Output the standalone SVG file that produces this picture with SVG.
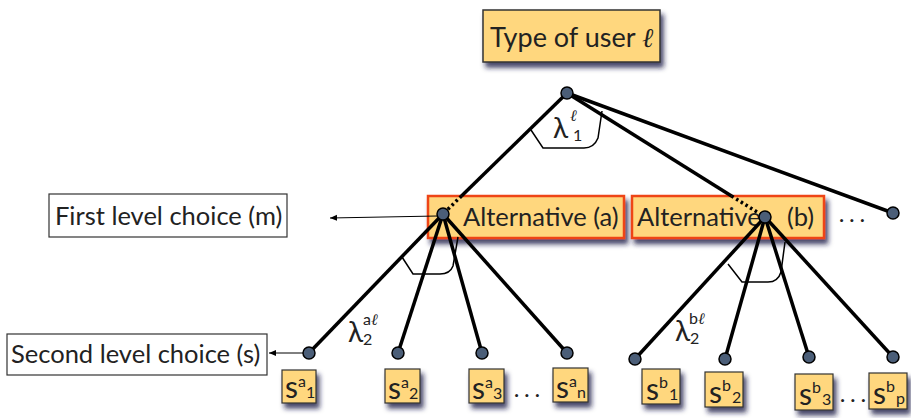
<svg xmlns="http://www.w3.org/2000/svg" width="911" height="418" viewBox="0 0 911 418">
  <defs>
    <filter id="shadow" x="-20%" y="-20%" width="150%" height="160%">
      <feDropShadow dx="3" dy="5" stdDeviation="2.5" flood-color="#1d1645" flood-opacity="0.8"/>
    </filter>
    <marker id="arrow" viewBox="0 0 8 8" refX="7" refY="4" markerWidth="8" markerHeight="8" markerUnits="userSpaceOnUse" orient="auto">
      <path d="M0,1 L7,4 L0,7 Z" fill="#000"/>
    </marker>
  </defs>
  <style>
    text { font-family: Lato, "Open Sans", "DejaVu Sans", sans-serif; font-weight: 400; fill: #222; }
    .ell { font-family: "DejaVu Serif", serif; font-style: italic; font-weight: 400; }
    .top { fill: #ffd77e; stroke: #333; stroke-width: 1.5; filter: url(#shadow); }
    .alt { fill: #ffd77e; stroke: #ee4418; stroke-width: 2.5; filter: url(#shadow); }
    .leaf { fill: #ffd77e; stroke: #333; stroke-width: 1.2; filter: url(#shadow); }
    .label { fill: #fff; stroke: #333; stroke-width: 1.2; }
    .node { fill: #4b5e78; stroke: #000; stroke-width: 1.5; }
    .edge { stroke: #000; stroke-width: 3.5; fill: none; }
    .dot { stroke: #000; stroke-width: 3.5; fill: none; stroke-dasharray: 2.5 3; }
    .angle { stroke: #000; stroke-width: 1.5; fill: none; }
    .ptr { stroke: #000; stroke-width: 1; fill: none; marker-end: url(#arrow); }
    .big { font-size: 25.5px; }
    .s { font-size: 30px; }
    .sup { font-size: 16px; }
    .lam { font-size: 28px; }
    .side { font-size: 25.5px; }
    .more { font-size: 20px; }
  </style>

  <!-- root -->
  <g id="user-type">
    <rect class="top" x="483" y="10" width="177" height="52"/>
    <text x="490" y="47" font-size="27">Type of user <tspan class="ell">ℓ</tspan></text>
  </g>

  <!-- first level alternatives -->
  <g id="alt-a">
    <rect class="alt" x="428" y="196" width="196" height="42"/>
    <text class="big" x="463" y="226">Alternative (a)</text>
  </g>
  <g id="alt-b">
    <rect class="alt" x="632" y="196" width="192" height="42"/>
    <text class="big" x="637" y="226">Alternative<tspan x="787">(b)</tspan></text>
  </g>
  <g id="alt-more">
    <text class="more" x="839" y="226">· · ·</text>
  </g>

  <!-- side labels -->
  <g id="first-level-label">
    <rect class="label" x="49" y="194" width="238" height="43"/>
    <text class="side" x="55" y="225">First level choice (m)</text>
  </g>
  <g id="second-level-label">
    <rect class="label" x="7" y="334" width="260" height="41"/>
    <text class="side" x="11" y="363">Second level choice (s)</text>
  </g>

  <!-- second level leaves, branch a -->
  <g id="leaf-a1">
    <rect class="leaf" x="282" y="370" width="34" height="33"/>
    <text class="s" x="285" y="398">s<tspan class="sup" x="298" y="387">a</tspan><tspan class="sup" x="306" y="398">1</tspan></text>
  </g>
  <g id="leaf-a2">
    <rect class="leaf" x="385" y="369" width="35" height="34"/>
    <text class="s" x="388" y="399">s<tspan class="sup" x="401" y="388">a</tspan><tspan class="sup" x="409" y="399">2</tspan></text>
  </g>
  <g id="leaf-a3">
    <rect class="leaf" x="469" y="369" width="35" height="34"/>
    <text class="s" x="472" y="399">s<tspan class="sup" x="485" y="388">a</tspan><tspan class="sup" x="493" y="399">3</tspan></text>
  </g>
  <g id="leaf-a-more">
    <text class="more" x="514" y="401">· · ·</text>
  </g>
  <g id="leaf-an">
    <rect class="leaf" x="553" y="368" width="35" height="34"/>
    <text class="s" x="556" y="398">s<tspan class="sup" x="569" y="387">a</tspan><tspan class="sup" x="577" y="398">n</tspan></text>
  </g>

  <!-- second level leaves, branch b -->
  <g id="leaf-b1">
    <rect class="leaf" x="642" y="369" width="38" height="35"/>
    <text class="s" x="646" y="400">s<tspan class="sup" x="659" y="388">b</tspan><tspan class="sup" x="669" y="400">1</tspan></text>
  </g>
  <g id="leaf-b2">
    <rect class="leaf" x="705" y="372" width="38" height="35"/>
    <text class="s" x="709" y="403">s<tspan class="sup" x="722" y="391">b</tspan><tspan class="sup" x="732" y="403">2</tspan></text>
  </g>
  <g id="leaf-b3">
    <rect class="leaf" x="795" y="374" width="38" height="36"/>
    <text class="s" x="799" y="405">s<tspan class="sup" x="812" y="393">b</tspan><tspan class="sup" x="822" y="405">3</tspan></text>
  </g>
  <g id="leaf-b-more">
    <text class="more" x="840" y="406">· · ·</text>
  </g>
  <g id="leaf-bp">
    <rect class="leaf" x="869" y="373" width="38" height="36"/>
    <text class="s" x="873" y="404">s<tspan class="sup" x="886" y="392">b</tspan><tspan class="sup" x="896" y="404">p</tspan></text>
  </g>

  <!-- connectors -->
  <g id="connectors">
    <line class="edge" x1="567" y1="93" x2="461.5" y2="196"/>
    <line class="dot" x1="461.5" y1="196" x2="443" y2="214"/>
    <line class="edge" x1="567" y1="93" x2="731.5" y2="196"/>
    <line class="dot" x1="731.5" y1="196" x2="765" y2="217"/>
    <line class="edge" x1="567" y1="93" x2="893" y2="213"/>

    <line class="edge" x1="443" y1="214" x2="309" y2="353"/>
    <line class="edge" x1="443" y1="214" x2="398" y2="353"/>
    <line class="edge" x1="443" y1="214" x2="482" y2="353"/>
    <line class="edge" x1="443" y1="214" x2="567" y2="353"/>

    <line class="edge" x1="765" y1="217" x2="635" y2="359"/>
    <line class="edge" x1="765" y1="217" x2="725" y2="359"/>
    <line class="edge" x1="765" y1="217" x2="809" y2="357"/>
    <line class="edge" x1="765" y1="217" x2="893" y2="357"/>

    <line class="ptr" x1="437" y1="216" x2="330" y2="218"/>
    <line class="ptr" x1="303" y1="353" x2="269" y2="353"/>

    <!-- nest angle marks -->
    <path class="angle" d="M531,130 L543,148 L584,148 Q594,148 598,138 L602,111"/>
    <path class="angle" d="M402,257 L413,274 L440,274 Q450,274 453,266 L458,237"/>
    <path class="angle" d="M728,264 L742,282 L768,282 Q778,282 781,272 L785,242"/>
  </g>

  <!-- nest parameters -->
  <g id="lambda-1">
    <text class="lam" x="553" y="138">λ<tspan class="sup ell" x="570" y="121">ℓ</tspan><tspan class="sup" x="573" y="141">1</tspan></text>
  </g>
  <g id="lambda-2a">
    <text class="lam" x="348" y="342">λ<tspan class="sup" x="363" y="325">a</tspan><tspan class="sup ell">ℓ</tspan><tspan class="sup" x="363" y="345">2</tspan></text>
  </g>
  <g id="lambda-2b">
    <text class="lam" x="675" y="341">λ<tspan class="sup" x="689" y="324">b</tspan><tspan class="sup ell">ℓ</tspan><tspan class="sup" x="690" y="344">2</tspan></text>
  </g>

  <!-- choice nodes -->
  <g id="nodes">
    <circle class="node" cx="567" cy="93" r="6"/>
    <circle class="node" cx="443" cy="214" r="6"/>
    <circle class="node" cx="765" cy="217" r="6"/>
    <circle class="node" cx="893" cy="213" r="6"/>
    <circle class="node" cx="309" cy="353" r="6"/>
    <circle class="node" cx="398" cy="353" r="6"/>
    <circle class="node" cx="482" cy="353" r="6"/>
    <circle class="node" cx="567" cy="353" r="6"/>
    <circle class="node" cx="635" cy="359" r="6"/>
    <circle class="node" cx="725" cy="359" r="6"/>
    <circle class="node" cx="809" cy="357" r="6"/>
    <circle class="node" cx="893" cy="357" r="6"/>
  </g>
</svg>
